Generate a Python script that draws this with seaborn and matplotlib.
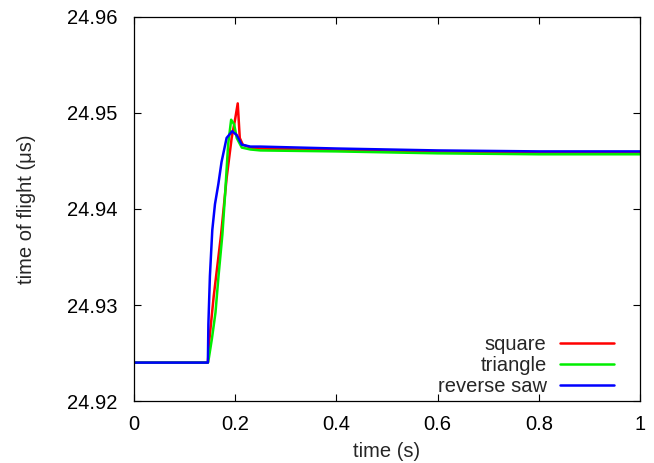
import seaborn as sns
import pandas as pd
import matplotlib.pyplot as plt

# key points (time in s, time of flight in us)
t_square = [0, 0.146, 0.149, 0.1575, 0.165, 0.172, 0.183, 0.193, 0.200, 0.205, 0.209,
            0.215, 0.23, 0.25, 0.4, 0.6, 0.8, 1.0]
tof_square = [24.9240, 24.9240, 24.9264, 24.9309, 24.9342, 24.9373, 24.9432, 24.9474,
              24.9494, 24.9510, 24.9474, 24.9467, 24.9464, 24.9463, 24.9461, 24.9459,
              24.9458, 24.9458]

t_triangle = [0, 0.146, 0.148, 0.154, 0.161, 0.167, 0.1746, 0.180, 0.186, 0.192, 0.198,
              0.203, 0.213, 0.23, 0.25, 0.4, 0.6, 0.8, 1.0]
tof_triangle = [24.9240, 24.9240, 24.9245, 24.9265, 24.9292, 24.9330, 24.9373, 24.9415,
                24.9467, 24.9493, 24.9488, 24.9474, 24.9464, 24.9462, 24.9461, 24.9460,
                24.9458, 24.9457, 24.9457]

t_saw = [0, 0.146, 0.147, 0.150, 0.1547, 0.160, 0.1667, 0.173, 0.183, 0.194, 0.203,
         0.213, 0.23, 0.25, 0.4, 0.6, 0.8, 1.0]
tof_saw = [24.9240, 24.9240, 24.9280, 24.9330, 24.9378, 24.9405, 24.9426, 24.9449,
           24.9474, 24.9481, 24.9477, 24.9467, 24.9465, 24.9465, 24.9463, 24.9461,
           24.9460, 24.9460]

names = ["square", "triangle", "reverse saw"]
colors = ["#ff0000", "#00ee00", "#0000ff"]

df = pd.concat([
    pd.DataFrame({"time": t_square, "tof": tof_square, "wave": names[0]}),
    pd.DataFrame({"time": t_triangle, "tof": tof_triangle, "wave": names[1]}),
    pd.DataFrame({"time": t_saw, "tof": tof_saw, "wave": names[2]}),
])

sns.set_style("ticks")
plt.rcParams['font.family'] = ['Liberation Sans', 'DejaVu Sans']
fs = 14.5

fig = plt.figure(figsize=(6.54, 4.63), dpi=100)
ax = fig.add_axes([0.2049, 0.1339, 0.7737, 0.8294])

sns.lineplot(data=df, x="time", y="tof", hue="wave", palette=colors,
             linewidth=1.8, legend=False, ax=ax)

for line, name in zip(ax.lines, names):
    line.set_label(name)

ax.set_xlim(0, 1)
ax.set_ylim(24.92, 24.96)
ax.set_xticks([0, 0.2, 0.4, 0.6, 0.8, 1])
ax.set_xticklabels(["0", "0.2", "0.4", "0.6", "0.8", "1"])
ax.set_yticks([24.92, 24.93, 24.94, 24.95, 24.96])
ax.set_yticklabels(["24.92", "24.93", "24.94", "24.95", "24.96"])
ax.tick_params(direction="in", length=5, width=0.8, top=True, right=True,
               labelsize=fs, colors="black")
ax.tick_params(axis="y", pad=12)
ax.tick_params(axis="x", pad=10)
for s in ax.spines.values():
    s.set_linewidth(0.9)
    s.set_color("black")

ax.set_xlabel("time (s)", fontsize=fs, labelpad=6)
ax.set_ylabel("time of flight (\u03bcs)", fontsize=fs, labelpad=22)

ax.legend(loc="lower right", bbox_to_anchor=(0.9486, 0.012), markerfirst=False,
          frameon=False, handlelength=2.7, handletextpad=0.65, labelspacing=0.12,
          borderpad=0, borderaxespad=0, fontsize=fs)

plt.savefig("out.png", dpi=100)
